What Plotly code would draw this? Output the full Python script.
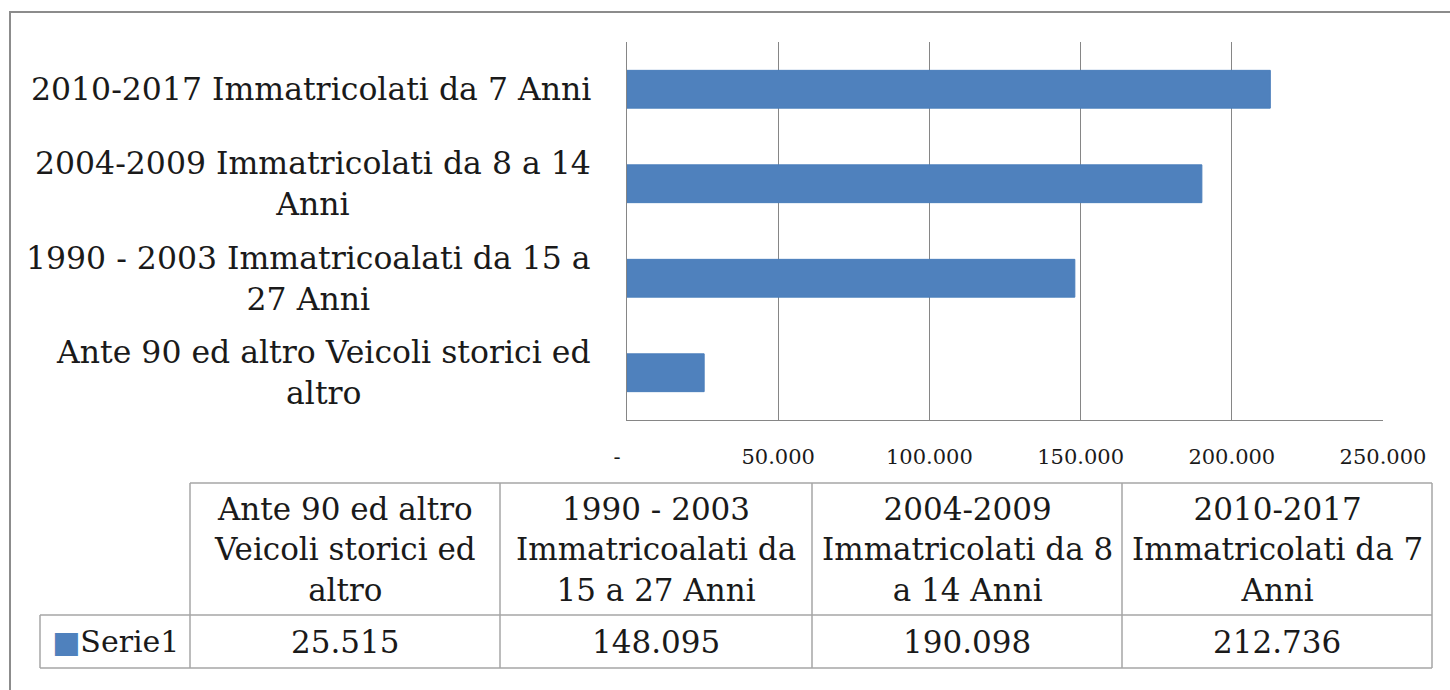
import plotly.graph_objects as go

# ---- data ----
categories = [
    "Ante 90 ed altro Veicoli storici ed altro",
    "1990 - 2003 Immatricoalati da 15 a 27 Anni",
    "2004-2009 Immatricolati da 8 a 14 Anni",
    "2010-2017 Immatricolati da 7 Anni",
]
axis_labels = [
    "Ante 90 ed altro Veicoli storici ed<br>altro",
    "1990 - 2003 Immatricoalati da 15 a<br>27 Anni",
    "2004-2009 Immatricolati da 8 a 14<br>Anni",
    "2010-2017 Immatricolati da 7 Anni",
]
table_headers = [
    "Ante 90 ed altro<br>Veicoli storici ed<br>altro",
    "1990 - 2003<br>Immatricoalati da<br>15 a 27 Anni",
    "2004-2009<br>Immatricolati da 8<br>a 14 Anni",
    "2010-2017<br>Immatricolati da 7<br>Anni",
]
series_name = "Serie1"
values = [25515, 148095, 190098, 212736]
tick_values = [0, 50000, 100000, 150000, 200000, 250000]
tick_labels = ["-\u00a0\u00a0\u00a0", "50.000", "100.000", "150.000", "200.000", "250.000"]

# ---- layout / style constants (pixels) ----
W, H = 1450, 690
FONT = "DejaVu Serif"
BAR = "#4F81BD"
GRID = "#868686"
TBL = "#A6A6A6"
TXT = "#1a1a1a"
col_edges = [40, 190, 500, 812, 1122, 1432]
row_edges = [483, 615, 668]


def px(x):
    return x / W


def py(y):
    return 1 - y / H


def it_fmt(v):
    return f"{v:,}".replace(",", ".")


fig = go.Figure()

fig.add_trace(go.Bar(
    x=values, y=categories, orientation="h",
    marker=dict(color=BAR, line=dict(color="#4A7EBB", width=1)),
    name=series_name, showlegend=False, hoverinfo="x+y",
))

# category labels (centered lines, right-aligned block)
for cat, lab in zip(categories, axis_labels):
    fig.add_annotation(
        x=px(593), xref="paper", y=cat, yref="y",
        text=lab, showarrow=False, xanchor="right", yanchor="middle",
        align="center", font=dict(family=FONT, size=31.5, color=TXT),
    )

# ---- data table below the chart ----
shapes = []
top, mid, bot = row_edges
shapes.append(dict(x0=px(col_edges[1]), x1=px(col_edges[-1]), y0=py(top), y1=py(top)))
shapes.append(dict(x0=px(col_edges[0]), x1=px(col_edges[-1]), y0=py(mid), y1=py(mid)))
shapes.append(dict(x0=px(col_edges[0]), x1=px(col_edges[-1]), y0=py(bot), y1=py(bot)))
shapes.append(dict(x0=px(col_edges[0]), x1=px(col_edges[0]), y0=py(mid), y1=py(bot)))
for xe in col_edges[1:]:
    shapes.append(dict(x0=px(xe), x1=px(xe), y0=py(top), y1=py(bot)))
for s in shapes:
    fig.add_shape(type="line", xref="paper", yref="paper",
                  line=dict(color=TBL, width=1.5), **s)

for i, head in enumerate(table_headers):
    cx = (col_edges[i + 1] + col_edges[i + 2]) / 2
    fig.add_annotation(
        x=px(cx), y=py((top + mid) / 2), xref="paper", yref="paper",
        text=head, showarrow=False, xanchor="center", yanchor="middle",
        align="center", font=dict(family=FONT, size=31, color=TXT),
    )
    fig.add_annotation(
        x=px(cx), y=py((mid + bot) / 2), xref="paper", yref="paper",
        text=it_fmt(values[i]), showarrow=False, xanchor="center", yanchor="middle",
        align="center", font=dict(family=FONT, size=31, color=TXT),
    )

fig.add_annotation(
    x=px((col_edges[0] + col_edges[1]) / 2), y=py((mid + bot) / 2),
    xref="paper", yref="paper",
    text=f"<span style='color:{BAR}'>■</span>{series_name}",
    showarrow=False, xanchor="center", yanchor="middle",
    font=dict(family=FONT, size=30, color=TXT),
)

# outer frame (extends beyond right/bottom edges, as in the reference)
fig.add_shape(type="rect", xref="paper", yref="paper",
              x0=px(10), x1=px(1470), y0=py(712), y1=py(12),
              line=dict(color="#8C8C8C", width=2), layer="below")

fig.update_layout(
    width=W, height=H, autosize=False,
    margin=dict(l=0, r=0, t=0, b=0, pad=0, autoexpand=False),
    paper_bgcolor="white", plot_bgcolor="white",
    bargap=0.6,
    xaxis=dict(
        domain=[px(627), px(1383)],
        range=[0, 250000],
        tickvals=tick_values, ticktext=tick_labels,
        showgrid=True, gridcolor=GRID, gridwidth=1,
        showline=True, linecolor=GRID, linewidth=1, mirror=False,
        zeroline=False, ticks="", ticklabelstandoff=18,
        tickfont=dict(family=FONT, size=21, color=TXT),
        fixedrange=True, automargin=False,
    ),
    yaxis=dict(
        domain=[py(420), py(42)],
        categoryorder="array", categoryarray=categories,
        showticklabels=False, showgrid=False,
        showline=True, linecolor=GRID, linewidth=1,
        ticks="", fixedrange=True, automargin=False,
    ),
)

fig.write_html(
    "out.html",
    config={"displayModeBar": False},
    post_script="document.body.style.margin='0px';document.body.style.overflow='hidden';",
)
